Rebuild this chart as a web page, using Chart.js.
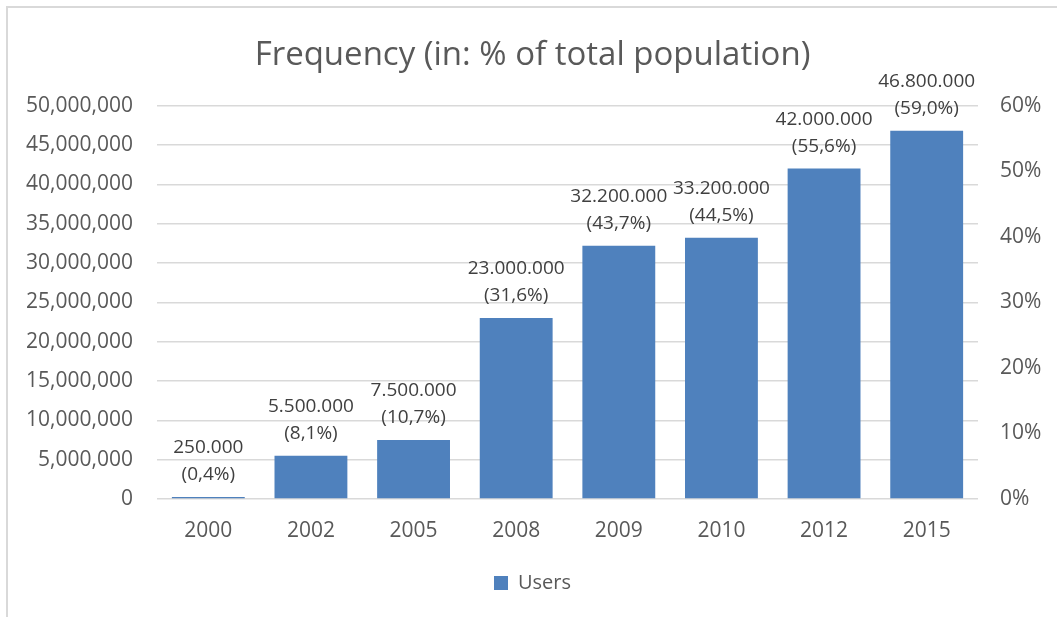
<!DOCTYPE html>
<html>
<head>
<meta charset="utf-8">
<script src="https://cdn.jsdelivr.net/npm/chart.js@4.4.1/dist/chart.umd.min.js"></script>
<style>
  html, body { margin: 0; padding: 0; background: #ffffff; }
  #wrap { position: relative; width: 1057px; height: 617px; }
</style>
</head>
<body>
<div id="wrap"><canvas id="chart" width="1057" height="617"></canvas></div>
<script>
// Internet users per year and their share of the total population (%)
const years = ['2000', '2002', '2005', '2008', '2009', '2010', '2012', '2015'];
const users = [250000, 5500000, 7500000, 23000000, 32200000, 33200000, 42000000, 46800000];
const sharePercent = [0.4, 8.1, 10.7, 31.6, 43.7, 44.5, 55.6, 59.0];

// Axis ranges
const userAxis = { min: 0, max: 50000000, step: 5000000 };
const shareAxis = { min: 0, max: 0.6, step: 0.1 };

const FONT = "'Open Sans', 'DejaVu Sans', sans-serif";
const TEXT = '#595959';
const GRID = '#d9d9d9';
const BAR = '#4f81bd';

// European style number formatting for the value labels
function dotted(n) {
  return String(n).replace(/\B(?=(\d{3})+(?!\d))/g, '.');
}
function pct(p) {
  return '(' + p.toFixed(1).replace('.', ',') + '%)';
}

// Two-line value label above each bar: users, then share of population
const valueLabels = {
  id: 'valueLabels',
  afterDatasetsDraw(chart) {
    const ctx = chart.ctx;
    const meta = chart.getDatasetMeta(0);
    ctx.save();
    ctx.font = '19px ' + FONT;
    ctx.fillStyle = '#404040';
    ctx.textAlign = 'center';
    ctx.textBaseline = 'middle';
    meta.data.forEach((bar, i) => {
      ctx.fillText(dotted(users[i]), bar.x, bar.y - 49);
      ctx.fillText(pct(sharePercent[i]), bar.x, bar.y - 22);
    });
    ctx.restore();
  }
};

// Thin frame along the top and left edge of the chart
const frame = {
  id: 'frame',
  beforeDraw(chart) {
    const ctx = chart.ctx;
    ctx.save();
    ctx.strokeStyle = GRID;
    ctx.lineWidth = 2;
    ctx.beginPath();
    ctx.moveTo(7, chart.height + 5);
    ctx.lineTo(7, 7);
    ctx.lineTo(chart.width + 5, 7);
    ctx.stroke();
    ctx.restore();
  }
};

new Chart(document.getElementById('chart'), {
  type: 'bar',
  data: {
    labels: years,
    datasets: [{
      label: 'Users',
      data: users,
      backgroundColor: BAR,
      borderWidth: 0,
      categoryPercentage: 0.71,
      barPercentage: 1.0,
      yAxisID: 'y'
    }]
  },
  options: {
    responsive: false,
    animation: false,
    devicePixelRatio: 1,
    layout: { padding: { left: 8, right: 0, top: 0, bottom: 14 } },
    plugins: {
      title: {
        display: true,
        text: 'Frequency (in: % of total population)',
        color: TEXT,
        font: { family: FONT, size: 33, weight: 'normal' },
        padding: { top: 36, bottom: 30 }
      },
      legend: {
        display: true,
        position: 'bottom',
        labels: {
          color: TEXT,
          font: { family: FONT, size: 20 },
          boxWidth: 14,
          boxHeight: 14,
          padding: 14
        }
      },
      tooltip: { enabled: false }
    },
    scales: {
      x: {
        grid: { display: false, drawTicks: false },
        border: { display: false },
        ticks: { color: TEXT, font: { family: FONT, size: 21 }, padding: 19 },
        afterFit(scale) { scale.height = 60; }
      },
      y: {
        position: 'left',
        min: userAxis.min,
        max: userAxis.max,
        grid: { color: GRID, lineWidth: 1.5, drawTicks: false },
        border: { display: false },
        ticks: {
          stepSize: userAxis.step,
          color: TEXT,
          font: { family: FONT, size: 21 },
          padding: 24,
          callback: v => v.toLocaleString('en-US')
        },
        afterFit(scale) { scale.width = 149; }
      },
      y2: {
        position: 'right',
        min: shareAxis.min,
        max: shareAxis.max,
        grid: { display: false, drawTicks: false },
        border: { display: false },
        ticks: {
          stepSize: shareAxis.step,
          color: TEXT,
          font: { family: FONT, size: 21 },
          padding: 22,
          callback: v => Math.round(v * 100) + '%'
        },
        afterFit(scale) { scale.width = 79; }
      }
    }
  },
  plugins: [frame, valueLabels]
});
</script>
</body>
</html>
